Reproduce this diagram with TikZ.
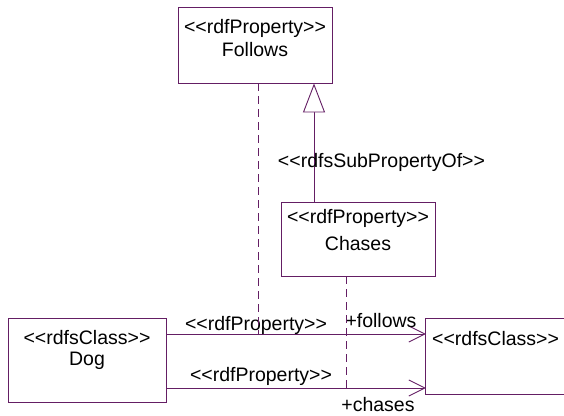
\documentclass[tikz,border=0pt]{standalone}
\usepackage{fontspec}
\setmainfont{Liberation Sans}
\usetikzlibrary{arrows.meta}
\definecolor{umlline}{RGB}{100,30,100}
\newcommand{\stL}{<\kern0pt<}
\newcommand{\stR}{>\kern0pt>}
\begin{document}
\begin{tikzpicture}[x=1pt,y=-1pt,
  box/.style={draw=umlline, line width=0.9pt, rectangle, inner sep=0pt},
  openbox/.style={draw=none, rectangle, inner sep=0pt},
  edge/.style={draw=umlline, line width=0.9pt},
  txt/.style={inner sep=0pt, font=\fontsize{19.5}{22}\selectfont, text=black},
  assoc/.style={draw=umlline, line width=0.9pt, -{Straight Barb[length=16pt,width=16pt,line width=0.9pt]}},
  depline/.style={draw=umlline, line width=0.9pt, dash pattern=on 8pt off 5pt},
  gen/.style={draw=umlline, line width=0.9pt, -{Triangle[open, length=29pt, width=22pt, line width=0.9pt, fill=white]}}
]
\useasboundingbox (0,0) rectangle (564,415);
\clip (0,0) rectangle (564,415);
% boxes
\node[box, minimum width=154pt, minimum height=76pt] (follows) at (255,45) {};
\node[box, minimum width=154pt, minimum height=74pt] (chases) at (358,239) {};
\node[box, minimum width=158pt, minimum height=84pt] (dog) at (87,360) {};
\node[openbox, minimum width=150pt, minimum height=75pt] (cls) at (501,356.5) {};
\draw[edge] (cls.north east) -- (cls.north west) -- (cls.south west) -- (cls.south east);
% box texts
\node[txt] (ft1) at (255,28) {\stL rdfProperty\stR};
\node[txt] (ft2) at (255,50) {Follows};
\node[txt] (ct1) at (358,218) {\stL rdfProperty\stR};
\node[txt] (ct2) at (358,244) {Chases};
\node[txt] (dt1) at (87,338) {\stL rdfsClass\stR};
\node[txt] (dt2) at (87,361) {Dog};
\node[txt, anchor=west] (rt1) at (432,339) {\stL rdfsClass\stR};
% helper coordinates
\coordinate (gx) at (314,0);
\coordinate (fx) at (258,0);
\coordinate (cx) at (346,0);
\coordinate (y1) at (0,334);
\coordinate (y2) at (0,388);
% generalization
\draw[gen] (gx |- chases.north) -- (gx |- follows.south);
\node[txt] (sublbl) at (381.5,162) {\stL rdfsSubPropertyOf\stR};
% associations
\draw[assoc] (dog.east |- y1) -- (cls.west |- y1);
\draw[assoc] (dog.east |- y2) -- (cls.west |- y2);
\node[txt] (al1) at (256,325) {\stL rdfProperty\stR};
\node[txt] (al2) at (261,376) {\stL rdfProperty\stR};
\node[txt] (r1) at (381,321) {+follows};
\node[txt] (r2) at (378,405) {+chases};
% dependency dashed lines
\draw[depline] (fx |- follows.south) -- (fx |- y1);
\draw[depline] (cx |- chases.south) -- (cx |- y2);
\end{tikzpicture}
\end{document}
